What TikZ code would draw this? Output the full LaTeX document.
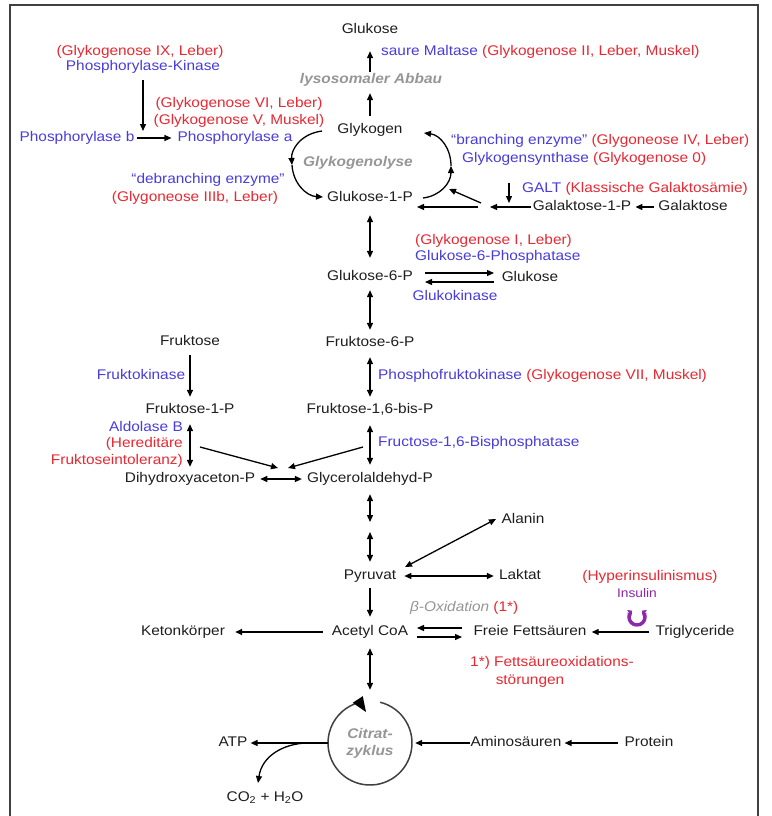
\documentclass[tikz,border=0pt]{standalone}
\usepackage{fontspec}
\setmainfont{Liberation Sans}[FakeStretch=1.1]
\usetikzlibrary{arrows.meta,calc}
\definecolor{rd}{RGB}{232,40,50}
\definecolor{blu}{RGB}{72,60,222}
\definecolor{gry}{RGB}{150,150,150}
\definecolor{purp}{RGB}{140,40,170}
\definecolor{ink}{RGB}{30,30,30}
\newcommand\fs{\fontsize{14}{16}\selectfont}
\begin{document}
\begin{tikzpicture}[x=1pt,y=-1pt,
  every node/.style={inner sep=0pt, text height=10pt, text depth=3pt, font=\fs, text=ink},
  rtxt/.style={text=rd},
  btxt/.style={text=blu},
  greyit/.style={text=gry, font=\fs\bfseries\itshape},
  citr/.style={text=gry, font=\fs\bfseries\itshape},
  ins/.style={text=purp, font=\fontsize{12.5}{14}\selectfont},
  tip/.tip={Triangle[length=7pt,width=6pt]},
  arr/.style={draw=black, line width=1.3pt, -tip},
  dbl/.style={draw=black, line width=1.3pt, tip-tip}]
\fill[white] (0,0) rectangle (771,816);
\useasboundingbox (0,0) rectangle (771,816);
\draw[line width=1.8pt, black!75] (10,816) -- (10,5) -- (758,5) -- (758,816);

% ---- top: glycogen ----
\node (glutop) at (370,30) {Glukose};
\node[greyit] (lyso) at (371,80) {lysosomaler Abbau};
\node[anchor=west] (maltase) at (381,52) {{\color{blu}saure Maltase} {\color{rd}(Glykogenose II, Leber, Muskel)}};
\node (glykogen) at (370,130) {Glykogen};
\node[greyit] (glyko) at (358,163) {Glykogenolyse};
\node (g1p) at (370,198) {Glukose-1-P};

\node[rtxt] (gsd9) at (140,52) {(Glykogenose IX, Leber)};
\node[btxt] (phk) at (143,67) {Phosphorylase-Kinase};
\node[rtxt] (gsd6) at (239,104) {(Glykogenose VI, Leber)};
\node[rtxt] (gsd5) at (239,121) {(Glykogenose V, Muskel)};
\node[btxt] (phb) at (77,138) {Phosphorylase b};
\node[btxt] (pha) at (235,138) {Phosphorylase a};
\node[btxt] (deb) at (208,180) {“debranching enzyme”};
\node[rtxt] (gsd3) at (195,198) {(Glygoneose IIIb, Leber)};

\node[anchor=west] (branch) at (451,141) {{\color{blu}“branching enzyme”} {\color{rd}(Glygoneose IV, Leber)}};
\node[anchor=west] (synth) at (462,159) {{\color{blu}Glykogensynthase} {\color{rd}(Glykogenose 0)}};
\node[anchor=west] (galt) at (522,189) {{\color{blu}GALT} {\color{rd}(Klassische Galaktosämie)}};
\node (gal1p) at (582,207) {Galaktose-1-P};
\node (gal) at (693,207) {Galaktose};

% ---- glucose-6-P ----
\node (g6p) at (370,277) {Glukose-6-P};
\node (glu2) at (530,278) {Glukose};
\node[rtxt, anchor=west] (gsd1) at (415,241) {(Glykogenose I, Leber)};
\node[btxt, anchor=west] (g6pase) at (415,257) {Glukose-6-Phosphatase};
\node[btxt] (gk) at (455,297) {Glukokinase};

\node (f6p) at (370,343) {Fruktose-6-P};
\node[anchor=west] (pfk) at (378,376) {{\color{blu}Phosphofruktokinase} {\color{rd}(Glykogenose VII, Muskel)}};
\node (f16) at (370,410) {Fruktose-1,6-bis-P};
\node[btxt, anchor=west] (fbp) at (378,443) {Fructose-1,6-Bisphosphatase};
\node (gap) at (370,479) {Glycerolaldehyd-P};

\node (fru) at (190,342) {Fruktose};
\node[btxt] (fk) at (141,376) {Fruktokinase};
\node (f1p) at (190,410) {Fruktose-1-P};
\node[btxt, anchor=east] (aldo) at (183,428) {Aldolase B};
\node[rtxt, anchor=east] (hfi1) at (183,444) {(Hereditäre};
\node[rtxt, anchor=east] (hfi2) at (183,461) {Fruktoseintoleranz)};
\node (dhap) at (190,479) {Dihydroxyaceton-P};

% ---- lower part ----
\node (pyr) at (370,576) {Pyruvat};
\node (ala) at (523,520) {Alanin};
\node (lak) at (520,576) {Laktat};
\node (acoa) at (370,632) {Acetyl CoA};
\node (keton) at (183,632) {Ketonkörper};
\node[anchor=west] (box) at (410,608) {{\color{gry}\itshape β-Oxidation} {\color{rd}(1*)}};
\node (ffa) at (530,632) {Freie Fettsäuren};
\node (tri) at (695,632) {Triglyceride};
\node[rtxt] (hyper) at (650,577) {(Hyperinsulinismus)};
\node[ins] (insulin) at (637,594) {Insulin};
\coordinate (insym) at (637,617);
\node[rtxt, anchor=west] (fao1) at (470,663) {1*) Fettsäureoxidations-};
\node[rtxt] (fao2) at (530,681) {störungen};

\node[circle, minimum size=84pt] (tca) at (370,743) {};
\node[citr] (cit1) at (370,735) {Citrat-};
\node[citr] (cit2) at (370,752) {zyklus};
\node (atp) at (233,743) {ATP};
\node (co2) at (265,798) {CO\textsubscript{2} + H\textsubscript{2}O};
\node (amino) at (516,743) {Aminosäuren};
\node (protein) at (649,743) {Protein};

% ---- coordinates for free ends ----
\coordinate (phkend) at (143,131);
\coordinate (glkL1) at (322,131);
\coordinate (glkL2) at (292,165);
\coordinate (glkL3) at (323,197);
\coordinate (glkR1) at (423,198);
\coordinate (glkR2) at (451,166);
\coordinate (glkR3) at (424,133);
\coordinate (galtip) at (490,207);
\coordinate (galttop) at (509,183);
\coordinate (galtbot) at (509,203);
\coordinate (gallong) at (478,207);
\coordinate (g1pin) at (417,207);
\coordinate (galdiag) at (481,203);
\coordinate (arcin) at (449,189);
\coordinate (g6pu1) at (425,273);
\coordinate (g6pu2) at (494,273);
\coordinate (g6pl1) at (494,282);
\coordinate (g6pl2) at (425,282);
\coordinate (gpm) at (370,527);
\coordinate (dg1s) at (200,447);
\coordinate (dg1e) at (278,468);
\coordinate (dg2s) at (363,447);
\coordinate (dg2e) at (288,468);
\coordinate (pa1) at (405,567);
\coordinate (pa2) at (496,519);
\coordinate (bo1) at (462,628);
\coordinate (bo2) at (417,628);
\coordinate (bo3) at (417,637);
\coordinate (bo4) at (462,637);
\coordinate (co2s) at (306,743);
\coordinate (co2t) at (258,783);

% ---- connectors ----
\draw[arr, shorten <=7.5pt, shorten >=6.5pt] (glykogen.north) -- (glykogen.north |- lyso.south);
\draw[arr, shorten <=1.5pt, shorten >=14.5pt] (glutop.south |- lyso.north) -- (glutop.south);
\draw[arr, shorten <=6.5pt] (phk.south) -- (phkend);
\draw[arr, shorten <=2pt, shorten >=6pt] (phb) -- (pha);

\draw[arr] (glkL1) .. controls (300,134) and (291,150) .. (glkL2);
\draw[arr] (glkL2) .. controls (293,183) and (306,196) .. (glkL3);
\draw[arr] (glkR1) .. controls (440,196) and (451,183) .. (glkR2);
\draw[arr] (glkR2) .. controls (451,148) and (440,135) .. (glkR3);

\draw[arr, shorten <=4pt, shorten >=4pt] (gal) -- (gal1p);
\draw[arr, shorten <=2pt] (gal1p.west) -- (galtip);
\draw[arr] (galttop) -- (galtbot);
\draw[arr] (gallong) -- (g1pin);
\draw[arr] (galdiag) -- (arcin);

\draw[dbl, shorten <=10.5pt, shorten >=12.5pt] (g1p.south) -- (g6p.north);
\draw[arr] (g6pu1) -- (g6pu2);
\draw[arr] (g6pl1) -- (g6pl2);
\draw[dbl, shorten <=6.5pt, shorten >=6.5pt] (g6p.south) -- (f6p.north);
\draw[dbl, shorten <=7.5pt, shorten >=6.5pt] (f6p.south) -- (f16.north);
\draw[dbl, shorten <=8.5pt, shorten >=7.5pt] (f16.south) -- (gap.north);
\draw[dbl, shorten <=8.5pt, shorten >=5pt] (gap.south) -- (gpm);
\draw[dbl, shorten <=5pt, shorten >=7.5pt] (gpm) -- (pyr.north);
\draw[arr, shorten <=5pt, shorten >=8.5pt] (pyr.south) -- (acoa.north);
\draw[dbl, shorten <=9.5pt, shorten >=11pt] (acoa.south) -- (tca.north);

\draw[arr, shorten <=6.5pt, shorten >=6.5pt] (fru.south) -- (f1p.north);
\draw[dbl, shorten <=7.5pt, shorten >=5.5pt] (f1p.south) -- (dhap.north);
\draw[dbl, shorten <=5pt, shorten >=5pt] (dhap) -- (gap);
\draw[arr] (dg1s) -- (dg1e);
\draw[arr] (dg2s) -- (dg2e);

\draw[dbl] (pa1) -- (pa2);
\draw[dbl, shorten <=8pt, shorten >=5pt] (pyr) -- (lak);
\draw[arr, shorten <=9pt, shorten >=10pt] (acoa) -- (keton);
\draw[arr] (bo1) -- (bo2);
\draw[arr] (bo3) -- (bo4);
\draw[arr, shorten <=6pt, shorten >=5pt] (tri) -- (ffa);

% insulin symbol
\draw[purp, line width=3.5pt, -{Triangle[length=3.5pt,width=7pt]}] ($(insym)+(90:8)$) arc[start angle=90, end angle=232, radius=8];
\draw[purp, line width=3.5pt, -{Triangle[length=3.5pt,width=7pt]}] ($(insym)+(90:8)$) arc[start angle=90, end angle=-52, radius=8];

% citrate cycle
\draw[line width=1.5pt, black!75] ($(tca.center)+(-76:42)$) arc[start angle=-76, end angle=249, radius=42];
\fill[black] (366,712) -- (362.8,696.2) -- (352.7,702.8) -- cycle;
\draw[arr, shorten >=3pt] (tca) -- (atp);
\draw[arr] (co2s) .. controls (283,744) and (262,756) .. (co2t);
\draw[arr, shorten >=3pt] (amino) -- (tca);
\draw[arr, shorten <=6pt, shorten >=3pt] (protein) -- (amino);
\end{tikzpicture}
\end{document}
